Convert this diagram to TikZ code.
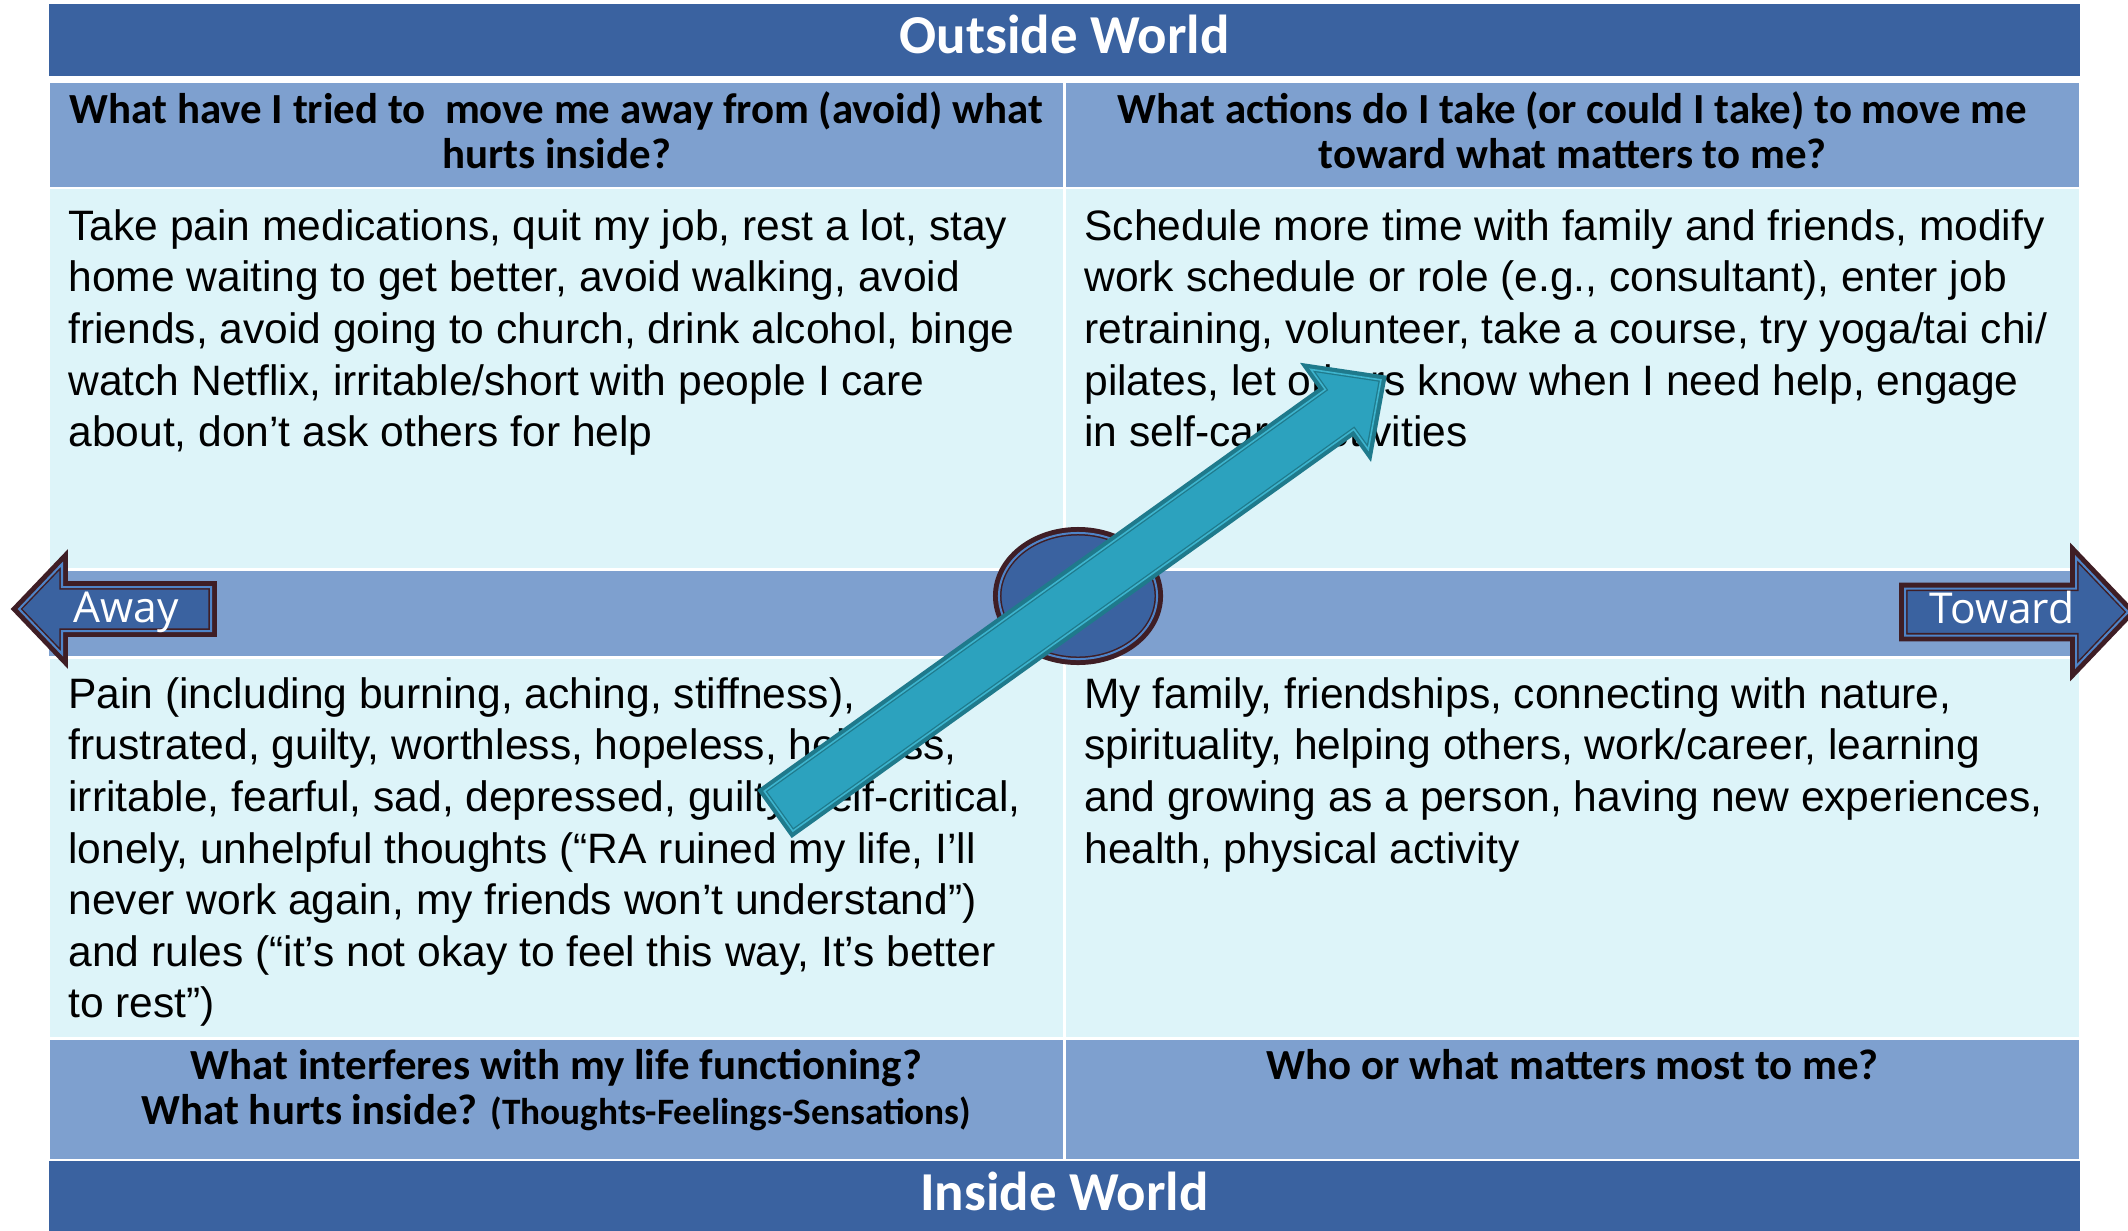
\documentclass[tikz,border=0pt]{standalone}
\usepackage{fontspec}
\setmainfont{Liberation Sans}
\newfontfamily\headfont{Carlito}
\newfontfamily\tagfont{Open Sans}
\usetikzlibrary{positioning,shapes.geometric}

\definecolor{worldblue}{HTML}{3A62A0}
\definecolor{askblue}{HTML}{7EA0CF}
\definecolor{notecyan}{HTML}{DDF4F9}
\definecolor{ringdark}{HTML}{3F1E25}
\definecolor{ringlight}{HTML}{4F84C8}
\definecolor{pushteal}{HTML}{2CA2BE}
\definecolor{pushdark}{HTML}{1F7A8C}
\definecolor{pushlight}{HTML}{3DB4CE}

\begin{document}
\begin{tikzpicture}[x=0.01cm, y=-0.01cm,
    cell/.style={rectangle, inner sep=0pt, outer sep=0pt, minimum width=10.13cm},
    world/.style={inner sep=0pt, anchor=base, text=white, font=\headfont\bfseries\fontsize{15.6pt}{16pt}\selectfont},
    ask/.style={inner sep=0pt, align=center, font=\headfont\bfseries\fontsize{12.2pt}{12.7pt}\selectfont},
    note/.style={inner sep=0pt, align=left, font=\fontsize{12.1pt}{14.65pt}\selectfont},
    tag/.style={inner sep=0pt, anchor=base, text=white, font=\tagfont\fontsize{12.1pt}{14pt}\selectfont},
    ringed/.style={fill=worldblue, draw=ringdark, line width=0.43pt, double=ringlight, double distance=0.57pt, line join=miter,
      preaction={draw=ringdark, line width=3.4pt, line join=miter}},
    push/.style={fill=pushteal, draw=pushdark, line width=0.37pt, double=pushlight, double distance=0.45pt, line join=miter,
      preaction={draw=pushdark, line width=2.85pt, line join=miter}}
  ]
  \useasboundingbox (0,0) rectangle (2128,1230);

  % Bands and cells
  \node[cell, fill=worldblue, minimum width=20.29cm, minimum height=0.72cm] (outside) at (1064.5,40) {};
  \node[cell, fill=askblue, minimum height=1.04cm] (askaway) at (556.5,135) {};
  \node[cell, fill=askblue, minimum height=1.04cm] (asktoward) at (1572.5,135) {};
  \node[cell, fill=notecyan, minimum height=3.79cm] (acts) at (556.5,378.5) {};
  \node[cell, fill=notecyan, minimum height=3.79cm] (steps) at (1572.5,378.5) {};
  \node[cell, fill=askblue, minimum width=20.29cm, minimum height=0.85cm] (midband) at (1064.5,613.5) {};
  \node[cell, fill=notecyan, minimum height=3.78cm] (hurts) at (556.5,848) {};
  \node[cell, fill=notecyan, minimum height=3.78cm] (values) at (1572.5,848) {};
  \node[cell, fill=askblue, minimum height=1.19cm] (askhurt) at (556.5,1099.5) {};
  \node[cell, fill=askblue, minimum height=1.19cm] (askvalue) at (1572.5,1099.5) {};
  \node[cell, fill=worldblue, minimum width=20.29cm, minimum height=0.74cm] (inside) at (1064.5,1198) {};

  % Titles
  \node[world] (outsidetxt) at (1064.5,53) {Outside World};
  \node[world] (insidetxt) at (1064.5,1210) {Inside World};

  % Questions
  \node[ask, below=0.08cm of askaway.north] (askawaytxt) {What have I tried to~ move me away from (avoid) what\\hurts inside?};
  \node[ask, below=0.08cm of asktoward.north] (asktowardtxt) {What actions do I take (or could I take) to move me\\toward what matters to me?};
  \node[ask, below=0.09cm of askhurt.north] (askhurttxt) {What interferes with my life functioning?\\What hurts inside? {\fontsize{10.6pt}{12pt}\selectfont(Thoughts-Feelings-Sensations)}};
  \node[ask, below=0.09cm of askvalue.north] (askvaluetxt) {Who or what matters most to me?};

  % Notes
  \node[note, below right=0.20cm and 0.18cm of acts.north west] (actstxt) {Take pain medications, quit my job, rest a lot, stay\\
    home waiting to get better, avoid walking, avoid\\
    friends, avoid going to church, drink alcohol, binge\\
    watch Netflix, irritable/short with people I care\\
    about, don’t ask others for help};
  \node[note, below right=0.20cm and 0.18cm of steps.north west] (stepstxt) {Schedule more time with family and friends, modify\\
    work schedule or role (e.g., consultant), enter job\\
    retraining, volunteer, take a course, try yoga/tai chi/\\
    pilates, let others know when I need help, engage\\
    in self-care activities};
  \node[note, below right=0.18cm and 0.18cm of hurts.north west] (hurtstxt) {Pain (including burning, aching, stiffness),\\
    frustrated, guilty, worthless, hopeless, helpless,\\
    irritable, fearful, sad, depressed, guilty, self-critical,\\
    lonely, unhelpful thoughts (“RA ruined my life, I’ll\\
    never work again, my friends won’t understand”)\\
    and rules (“it’s not okay to feel this way, It’s better\\
    to rest”)};
  \node[note, below right=0.18cm and 0.18cm of values.north west] (valuestxt) {My family, friendships, connecting with nature,\\
    spirituality, helping others, work/career, learning\\
    and growing as a person, having new experiences,\\
    health, physical activity};

  % Away / Toward
  \draw[ringed] (211,587) -- (62,587) -- (62,564) -- (19,609) -- (62,654) -- (62,631) -- (211,631) -- cycle;
  \node[tag] (away) at (126,622) {Away};
  \draw[ringed] (1905,588.5) -- (2076,588.5) -- (2076,557.5) -- (2128,612) -- (2076,666.5) -- (2076,635.5) -- (1905,635.5) -- cycle;
  \node[tag] (toward) at (2002,623) {Toward};

  % Centre
  \node[ringed, ellipse, inner sep=0pt, minimum width=1.58cm, minimum height=1.26cm] (hub) at (1078,596) {};

  % Big arrow
  \begin{scope}[shift={(774.5,814)}, rotate=35.6]
    \draw[push] (5,-24.5) -- (695,-24.5) -- (695,-49.2) -- (745.8,0) -- (695,49.2) -- (695,24.5) -- (5,24.5) -- cycle;
  \end{scope}
\end{tikzpicture}
\end{document}
